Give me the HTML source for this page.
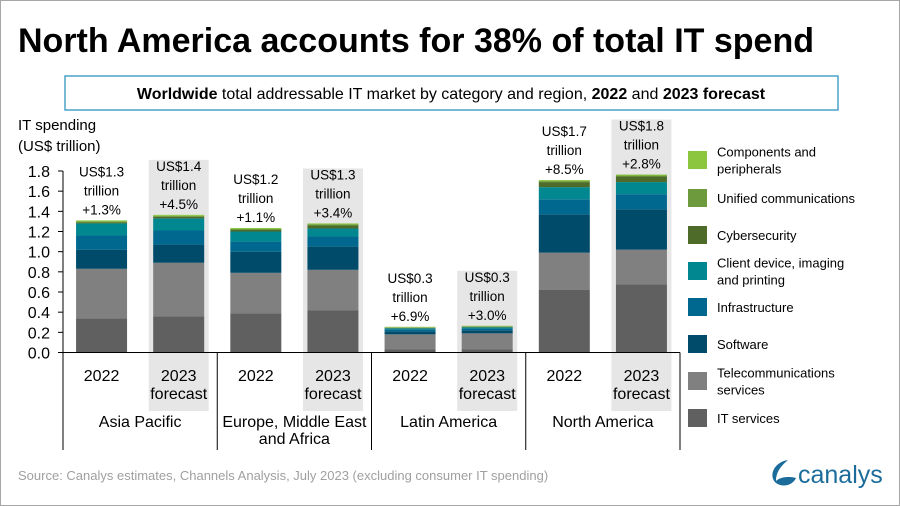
<!DOCTYPE html>
<html><head><meta charset="utf-8"><style>
body{margin:0;background:#fff}
svg{display:block;font-family:"Liberation Sans",sans-serif}
</style></head><body>
<svg id="chart" width="900" height="506" xmlns="http://www.w3.org/2000/svg">
<rect x="0.5" y="0.5" width="899" height="505" fill="#fff" stroke="#a6a6a6"/>
<text x="18" y="52" font-size="34" font-weight="bold" fill="#000">North America accounts for 38% of total IT spend</text>
<rect x="65" y="76" width="773" height="34" fill="#fff" stroke="#4ba3c7" stroke-width="1.5"/>
<text x="451" y="99" font-size="16" text-anchor="middle" fill="#000"><tspan font-weight="bold">Worldwide</tspan> total addressable IT market by category and region, <tspan font-weight="bold">2022</tspan> and <tspan font-weight="bold">2023 forecast</tspan></text>
<text x="18" y="130" font-size="15">IT spending</text>
<text x="18" y="151" font-size="15">(US$ trillion)</text>
<g id="plot"></g>
<text x="18" y="480" font-size="13" fill="#a0a0a0">Source: Canalys estimates, Channels Analysis, July 2023 (excluding consumer IT spending)</text>
<g>
<path d="M788 460 C774 462 768 476 776 483 C783 488 793 485 796 478 C789 476 780 477 776 481 C776 472 781 466 788 460 Z" fill="#1b6c9a"/>
<text x="798" y="483" font-size="25" fill="#1b6c9a">canalys</text>
</g>
</svg>
<script>
const categories=["2022","2023 forecast","2022","2023 forecast","2022","2023 forecast","2022","2023 forecast"];
const regions=["Asia Pacific","Europe, Middle East|and Africa","Latin America","North America"];
const seriesNames=["IT services","Telecommunications services","Software","Infrastructure","Client device, imaging and printing","Cybersecurity","Unified communications","Components and peripherals"];
const itServices=[0.34,0.36,0.39,0.42,0.03,0.03,0.62,0.675];
const telecom=[0.49,0.53,0.40,0.40,0.15,0.16,0.37,0.345];
const software=[0.19,0.18,0.21,0.23,0.03,0.03,0.38,0.40];
const infrastructure=[0.14,0.14,0.10,0.10,0.02,0.02,0.15,0.15];
const clientDevice=[0.12,0.12,0.10,0.08,0.01,0.01,0.12,0.12];
const cybersecurity=[0.01,0.015,0.015,0.03,0.005,0.005,0.05,0.055];
const unifiedComms=[0.01,0.01,0.01,0.01,0.005,0.005,0.01,0.01];
const components=[0.01,0.01,0.01,0.01,0.005,0.005,0.01,0.01];
const totalLabels=["US$1.3","US$1.4","US$1.2","US$1.3","US$0.3","US$0.3","US$1.7","US$1.8"];
const growthLabels=["+1.3%","+4.5%","+1.1%","+3.4%","+6.9%","+3.0%","+8.5%","+2.8%"];
const yTicks=[0,0.2,0.4,0.6,0.8,1.0,1.2,1.4,1.6,1.8];
const colors=["#606060","#808080","#004b6a","#00688f","#00878f","#4f6b2a","#6c9a3c","#8cc63f"];
const series=[itServices,telecom,software,infrastructure,clientDevice,cybersecurity,unifiedComms,components];
const NS="http://www.w3.org/2000/svg";
const g=document.getElementById('plot');
const y0=352.5,yMax=171,axL=63,axR=680,slotW=(axR-axL)/8,barW=51;
function y(v){return y0-(v/1.8)*(y0-yMax);}
function xc(i){return axL+slotW*(i+0.5);}
function mk(t,a){const e=document.createElementNS(NS,t);for(const k in a)e.setAttribute(k,a[k]);g.appendChild(e);return e;}
// forecast backgrounds
categories.forEach((c,i)=>{if(i%2==1){let tot=0;series.forEach(s=>tot+=s[i]);
const r=mk('rect',{x:xc(i)-30,y:y(tot)-55,width:60,height:411-(y(tot)-55),fill:'#e6e6e6'});

}});
// y ticks
yTicks.forEach(v=>{const t=mk('text',{x:50,y:y(v)+6,'font-size':16,'text-anchor':'end'});t.textContent=v.toFixed(1);


const l=mk('line',{x1:axL-5,x2:axL,y1:y(v),y2:y(v),stroke:'#000'});

});
// bars
categories.forEach((c,i)=>{let base=0;
series.forEach((s,k)=>{const v=s[i];const r=mk('rect',{x:xc(i)-barW/2,y:y(base+v),width:barW,height:y(base)-y(base+v),fill:colors[k]});


base+=v;});
const top=y(base);
[totalLabels[i],'trillion',growthLabels[i]].forEach((s,j)=>{const t=mk('text',{x:xc(i),y:top-44+j*19,'font-size':13.5,'text-anchor':'middle'});t.textContent=s;

});
const parts=c.split(' ');parts.forEach((p,j)=>{const t=mk('text',{x:xc(i),y:381+j*18,'font-size':16,'text-anchor':'middle'});t.textContent=p;

});});
// axes
const ya=mk('line',{x1:axL,x2:axL,y1:yMax,y2:y0,stroke:'#000'});


const xa=mk('line',{x1:axL-5,x2:axR,y1:y0,y2:y0,stroke:'#000'});


for(let k=0;k<=4;k++){const l=mk('line',{x1:axL+slotW*2*k,x2:axL+slotW*2*k,y1:y0,y2:450,stroke:'#000'});

}
regions.forEach((r,k)=>{r.split('|').forEach((p,j)=>{const t=mk('text',{x:axL+slotW*(2*k+1),y:427+j*17,'font-size':16,'text-anchor':'middle'});t.textContent=p;

});});
// legend
const legY=[160,198,235,271,307,344,381,418];
const legText=[["IT services"],["Telecommunications","services"],["Software"],["Infrastructure"],["Client device, imaging","and printing"],["Cybersecurity"],["Unified communications"],["Components and","peripherals"]];
for(let k=0;k<8;k++){const yy=legY[7-k];
const r=mk('rect',{x:688,y:yy-9,width:19,height:18,fill:colors[k]});


const lines=legText[k];lines.forEach((s,j)=>{const t=mk('text',{x:717,y:yy+5+(j-(lines.length-1)/2)*17,'font-size':13});t.textContent=s;

});}
</script>
</body></html>
